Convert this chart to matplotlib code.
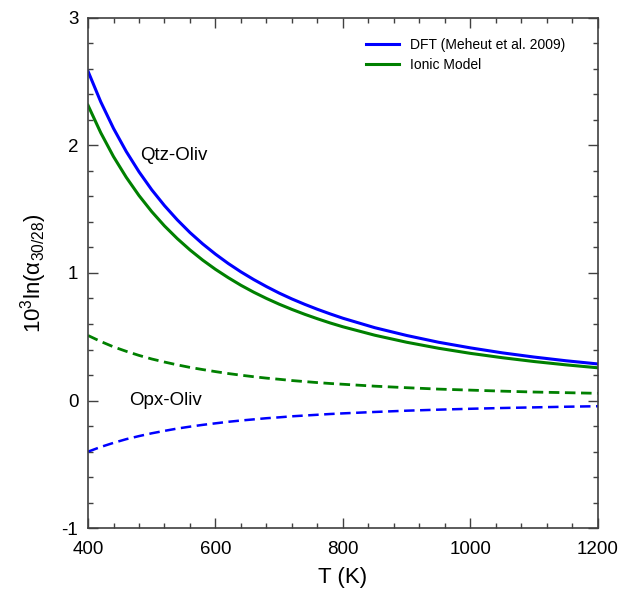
import numpy as np
import matplotlib
matplotlib.use("Agg")
import matplotlib.pyplot as plt
from matplotlib.ticker import MultipleLocator

plt.rcParams['font.family'] = ['Liberation Sans', 'DejaVu Sans']
plt.rcParams['mathtext.fontset'] = 'custom'
plt.rcParams['mathtext.rm'] = 'Liberation Sans'
plt.rcParams['mathtext.it'] = 'Liberation Sans:italic'
plt.rcParams['mathtext.sf'] = 'Liberation Sans'
plt.rcParams['axes.unicode_minus'] = False

# temperatura (K)
T = [400, 420, 440, 460, 480, 500, 520, 540, 560, 580, 600, 620, 640, 660, 680, 700, 720, 740, 760, 780,
     800, 850, 900, 950, 1000, 1050, 1100, 1150, 1200]

# Qtz-Oliv
qtz_dft = [2.58, 2.34, 2.132, 1.951, 1.792, 1.651, 1.527, 1.416, 1.316, 1.227, 1.147, 1.074, 1.008, 0.948,
           0.893, 0.842, 0.796, 0.754, 0.715, 0.679, 0.645, 0.571, 0.51, 0.457, 0.413, 0.374, 0.341, 0.312, 0.287]
qtz_ionic = [2.313, 2.098, 1.911, 1.749, 1.606, 1.48, 1.368, 1.269, 1.18, 1.10, 1.028, 0.963, 0.903, 0.849,
             0.80, 0.755, 0.714, 0.676, 0.641, 0.608, 0.578, 0.512, 0.457, 0.41, 0.37, 0.336, 0.306, 0.28, 0.257]

# Opx-Oliv
opx_dft = [-0.40, -0.363, -0.331, -0.302, -0.278, -0.256, -0.237, -0.219, -0.204, -0.19, -0.178, -0.166, -0.156,
           -0.147, -0.138, -0.131, -0.123, -0.117, -0.111, -0.105, -0.10, -0.089, -0.079, -0.071, -0.064, -0.058,
           -0.053, -0.048, -0.044]
opx_ionic = [0.51, 0.463, 0.421, 0.386, 0.354, 0.326, 0.302, 0.28, 0.26, 0.243, 0.227, 0.212, 0.199, 0.187, 0.176,
             0.167, 0.157, 0.149, 0.141, 0.134, 0.128, 0.113, 0.101, 0.09, 0.082, 0.074, 0.067, 0.062, 0.057]

azul = "#0000ff"
verde = "#008000"

fig = plt.figure(figsize=(6.35, 5.98), dpi=100)
ax = fig.add_axes([0.1386, 0.1166, 0.803, 0.854])

ax.plot(T, qtz_dft, color=azul, linewidth=2.2, label="DFT (Meheut et al. 2009)")
ax.plot(T, qtz_ionic, color=verde, linewidth=2.2, label="Ionic Model")
ax.plot(T, opx_ionic, color=verde, linewidth=2.0, dashes=(3.8, 2.0))
ax.plot(T, opx_dft, color=azul, linewidth=1.8, dashes=(4.2, 2.2))

ax.text(482, 1.92, "Qtz-Oliv", fontsize=13.5, ha="left", va="center")
ax.text(464, 0.0, "Opx-Oliv", fontsize=13.5, ha="left", va="center")

ax.set_xlim(400, 1200)
ax.set_ylim(-1, 3)
ax.xaxis.set_major_locator(MultipleLocator(200))
ax.xaxis.set_minor_locator(MultipleLocator(40))
ax.yaxis.set_major_locator(MultipleLocator(1))
ax.yaxis.set_minor_locator(MultipleLocator(0.2))
ax.tick_params(which="both", direction="in", top=True, right=True, color="#404040", width=1.0)
ax.tick_params(which="major", length=7, labelsize=13.5)
ax.tick_params(axis="x", which="major", pad=9)
ax.tick_params(axis="y", which="major", pad=7)
ax.tick_params(which="minor", length=3.5)
for s in ax.spines.values():
    s.set_color("#404040")
    s.set_linewidth(1.2)

ax.set_xlabel("T (K)", fontsize=16, labelpad=7)
ax.set_ylabel("10$^3$ln(α$_{30/28}$)", fontsize=16, labelpad=9)

ax.legend(loc="upper left", bbox_to_anchor=(0.545, 0.96), frameon=False, fontsize=10,
          handlelength=2.4, handletextpad=0.8, borderpad=0, borderaxespad=0, labelspacing=0.45)

plt.savefig("out.png", dpi=100)
